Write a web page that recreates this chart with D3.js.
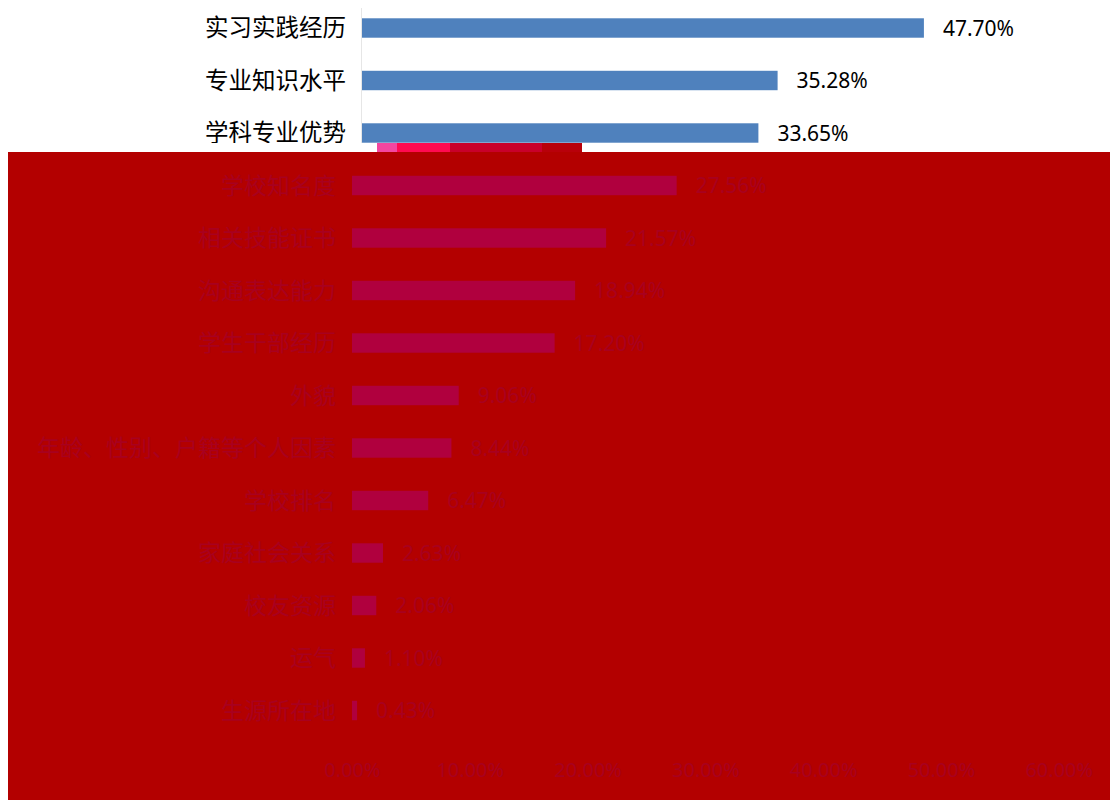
<!DOCTYPE html>
<html>
<head>
<meta charset="utf-8">
<script src="https://cdn.jsdelivr.net/npm/d3@7/dist/d3.min.js"></script>
<style>
  html, body { margin: 0; padding: 0; background: #ffffff; }
  svg { display: block; }
</style>
</head>
<body>
<svg id="chart" width="1110" height="800"></svg>
<script>
// ---- data ----
const categories = [
  "实习实践经历", "专业知识水平", "学科专业优势", "学校知名度",
  "相关技能证书", "沟通表达能力", "学生干部经历", "外貌",
  "年龄、性别、户籍等个人因素", "学校排名", "家庭社会关系",
  "校友资源", "运气", "生源所在地"
];
const values = [47.70, 35.28, 33.65, 27.56, 21.57, 18.94, 17.20, 9.06, 8.44, 6.47, 2.63, 2.06, 1.10, 0.43];
const tickValues = [0, 10, 20, 30, 40, 50, 60];

const W = 1110, H = 800;
const svg = d3.select("#chart");
svg.append("rect").attr("width", W).attr("height", H).attr("fill", "#ffffff");

const defs = svg.append("defs");
defs.append("clipPath").attr("id", "clipTop")
  .append("rect").attr("x", 0).attr("y", 0).attr("width", W).attr("height", 143);
defs.append("clipPath").attr("id", "clipRed")
  .append("rect").attr("x", 8).attr("y", 152).attr("width", W - 8).attr("height", H - 152);

const fmt = d => d3.format(".2f")(d) + "%";

function drawChart(g, x0, st) {
  const x = d3.scaleLinear().domain([0, 60]).range([x0, x0 + 60 * 11.78]);
  const y = d3.scaleBand().domain(categories).range([1.75, 1.75 + 14 * 52.5]).paddingInner(0.63).paddingOuter(0.315);

  if (st.axis) {
    g.append("line")
      .attr("x1", x(0) - 0.5).attr("x2", x(0) - 0.5)
      .attr("y1", 8).attr("y2", y.range()[1])
      .attr("stroke", st.axis).attr("stroke-width", 1);
  }

  g.selectAll("rect.bar").data(categories).join("rect")
    .attr("class", "bar")
    .attr("x", x(0))
    .attr("y", d => y(d))
    .attr("width", (d, i) => x(values[i]) - x(0))
    .attr("height", y.bandwidth())
    .attr("fill", st.bar);

  g.selectAll("text.cat").data(categories).join("text")
    .attr("class", "cat")
    .attr("x", x(0) - 16)
    .attr("y", d => y(d) + y.bandwidth() / 2)
    .attr("dy", "0.35em")
    .attr("text-anchor", "end")
    .attr("font-family", st.catFont)
    .attr("font-size", st.catSize)
    .attr("fill", st.text)
    .text(d => d);

  g.selectAll("text.val").data(categories).join("text")
    .attr("class", "val")
    .attr("x", (d, i) => x(values[i]) + 19)
    .attr("y", d => y(d) + y.bandwidth() / 2)
    .attr("dy", "0.36em")
    .attr("font-family", "'Noto Sans', 'Open Sans', sans-serif")
    .attr("font-size", 21)
    .attr("fill", st.text)
    .text((d, i) => fmt(values[i]));

  const axis = d3.axisBottom(x).tickValues(tickValues).tickFormat(fmt).tickSize(0).tickPadding(18);
  const ax = g.append("g").attr("transform", `translate(0,${y.range()[1] + 8})`).call(axis);
  ax.select(".domain").remove();
  ax.selectAll("text")
    .attr("font-family", "'Noto Sans', 'Open Sans', sans-serif")
    .attr("font-size", 20)
    .attr("fill", st.text);
}

// visible top part of the chart
const gTop = svg.append("g").attr("clip-path", "url(#clipTop)");
drawChart(gTop, 362, {
  bar: "#4f81bd", text: "#000000", axis: "#e6e6e6",
  catFont: "'Noto Sans CJK SC', sans-serif", catSize: 23.5
});

// red overlay block
svg.append("rect").attr("x", 8).attr("y", 152).attr("width", W - 8).attr("height", H - 152).attr("fill", "#b30000");

// glitch strip just above the overlay
const glitch = svg.append("g");
glitch.append("rect").attr("x", 377).attr("y", 143).attr("width", 73).attr("height", 9).attr("fill", "#ff0a50");
glitch.append("rect").attr("x", 450).attr("y", 143).attr("width", 92).attr("height", 9).attr("fill", "#c8002a");
glitch.append("rect").attr("x", 542).attr("y", 143).attr("width", 40).attr("height", 9).attr("fill", "#b8000a");
glitch.append("rect").attr("x", 377).attr("y", 143).attr("width", 20).attr("height", 9).attr("fill", "#f060c0").attr("opacity", 0.7);

// faint chart seen through the overlay
const gRed = svg.append("g").attr("clip-path", "url(#clipRed)");
drawChart(gRed, 352, {
  bar: "#b0003e", text: "#a8001f", axis: null,
  catFont: "'Noto Sans CJK SC', serif", catSize: 23
});
</script>
</body>
</html>
